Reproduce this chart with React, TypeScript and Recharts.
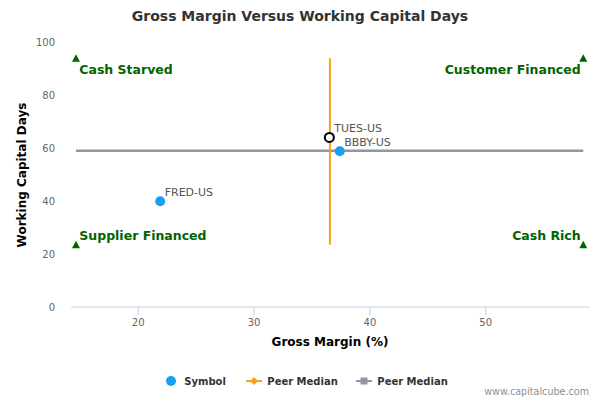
import { ScatterChart, Scatter, XAxis, YAxis } from "recharts";

// peer companies (blue dots)
const peerNames = ["FRED-US", "BBBY-US"];
const peerMargin = [21.9, 37.4];
const peerDays = [39.9, 58.8];

// the company under review (open circle)
const subjectName = "TUES-US";
const subjectMargin = 36.5;
const subjectDays = 64.0;

// peer medians
const medianMargin = 36.55;
const medianDays = 59.0;

// quadrant markers
const quadrantNames = ["Cash Starved", "Customer Financed", "Supplier Financed", "Cash Rich"];
const quadrantMargin = [14.63, 58.42, 14.63, 58.42];
const quadrantDays = [93.9, 93.9, 23.5, 23.5];

const xTicks = [20, 30, 40, 50];
const yTicks = [0, 20, 40, 60, 80, 100];
const legendNames = ["Symbol", "Peer Median", "Peer Median"];

const FONT = "'DejaVu Sans', Verdana, sans-serif";
const BLUE = "#1a9ef0";
const ORANGE = "#f7a21c";
const GRAY = "#9096a2";
const GREEN = "#006400";

const peerData = peerNames.map((name, i) => ({ name, x: peerMargin[i], y: peerDays[i] }));
const subjectData = [{ name: subjectName, x: subjectMargin, y: subjectDays }];
const quadrantData = quadrantNames.map((name, i) => ({
  name,
  x: quadrantMargin[i],
  y: quadrantDays[i],
}));
const xMid = (Math.min(...quadrantMargin) + Math.max(...quadrantMargin)) / 2;
const yMid = (Math.min(...quadrantDays) + Math.max(...quadrantDays)) / 2;

const verticalMedian = [
  { x: medianMargin, y: Math.min(...quadrantDays) },
  { x: medianMargin, y: Math.max(...quadrantDays) },
];
const horizontalMedian = [
  { x: Math.min(...quadrantMargin), y: medianDays },
  { x: Math.max(...quadrantMargin), y: medianDays },
];

const NoDot = () => <g />;

const PeerDot = (props: any) => {
  const { cx, cy, payload } = props;
  return (
    <g>
      <circle cx={cx} cy={cy} r={5} fill={BLUE} />
      <text x={cx + 4.5} y={cy - 5.5} fontSize={11} fill="#555" fontFamily={FONT}>
        {payload.name}
      </text>
    </g>
  );
};

const SubjectDot = (props: any) => {
  const { cx, cy, payload } = props;
  return (
    <g>
      <circle cx={cx} cy={cy} r={4.5} fill="#fff" stroke="#000" strokeWidth={2} />
      <text x={cx + 5} y={cy - 5.5} fontSize={11} fill="#555" fontFamily={FONT}>
        {payload.name}
      </text>
    </g>
  );
};

const QuadrantMark = (props: any) => {
  const { cx, cy, payload } = props;
  const right = payload.x > xMid;
  const top = payload.y > yMid;
  return (
    <g>
      <path d={`M${cx},${cy - 4} L${cx + 4},${cy + 3.5} L${cx - 4},${cy + 3.5} Z`} fill={GREEN} />
      <text
        x={right ? cx - 2.6 : cx + 3.3}
        y={top ? cy + 15.5 : cy - 5}
        textAnchor={right ? "end" : "start"}
        fontSize={12.5}
        fontWeight="bold"
        fill={GREEN}
        fontFamily={FONT}
      >
        {payload.name}
      </text>
    </g>
  );
};

export default function App() {
  return (
    <div
      style={{
        position: "absolute",
        left: 0,
        top: 0,
        width: 600,
        height: 400,
        background: "#fff",
        fontFamily: FONT,
      }}
    >
      <ScatterChart width={600} height={400} margin={{ top: 42, right: 10, bottom: 63, left: 0 }}>
        <XAxis
          type="number"
          dataKey="x"
          domain={[14.2, 59]}
          ticks={xTicks}
          allowDataOverflow
          height={30}
          axisLine={{ stroke: "#c0d0e0" }}
          tickLine={{ stroke: "#c0d0e0" }}
          tickSize={8}
          tickMargin={4}
          tick={{ fill: "#666", fontSize: 10 }}
        />
        <YAxis
          type="number"
          dataKey="y"
          domain={[0, 100]}
          ticks={yTicks}
          width={71}
          axisLine={false}
          tickLine={false}
          tickSize={0}
          tickMargin={16}
          tick={{ fill: "#666", fontSize: 10 }}
        />
        <Scatter
          data={horizontalMedian}
          line={{ stroke: GRAY, strokeWidth: 2.5 }}
          shape={NoDot}
          isAnimationActive={false}
        />
        <Scatter
          data={verticalMedian}
          line={{ stroke: ORANGE, strokeWidth: 2 }}
          shape={NoDot}
          isAnimationActive={false}
        />
        <Scatter data={quadrantData} shape={QuadrantMark} isAnimationActive={false} />
        <Scatter data={peerData} shape={PeerDot} isAnimationActive={false} />
        <Scatter data={subjectData} shape={SubjectDot} isAnimationActive={false} />
      </ScatterChart>

      <svg
        width={600}
        height={400}
        style={{ position: "absolute", left: 0, top: 0, pointerEvents: "none" }}
      >
        <text x={300} y={21} textAnchor="middle" fontSize={14} fontWeight="bold" fill="#333">
          Gross Margin Versus Working Capital Days
        </text>
        <text x={330} y={346} textAnchor="middle" fontSize={12} fontWeight="bold" fill="#000">
          Gross Margin (%)
        </text>
        <text
          transform="translate(26,175) rotate(-90)"
          textAnchor="middle"
          fontSize={12}
          fontWeight="bold"
          fill="#000"
        >
          Working Capital Days
        </text>

        {/* legend */}
        <circle cx={171} cy={381} r={5} fill={BLUE} />
        <text x={184.3} y={384.5} fontSize={10} fontWeight="bold" fill="#333">
          {legendNames[0]}
        </text>
        <line x1={246} x2={262} y1={381} y2={381} stroke={ORANGE} strokeWidth={2} />
        <path d="M254,377 L258,381 L254,385 L250,381 Z" fill={ORANGE} />
        <text x={267.3} y={384.5} fontSize={10} fontWeight="bold" fill="#333">
          {legendNames[1]}
        </text>
        <line x1={356} x2={372} y1={381} y2={381} stroke={GRAY} strokeWidth={2} />
        <rect x={360.5} y={377.5} width={7} height={7} fill={GRAY} />
        <text x={377.3} y={384.5} fontSize={10} fontWeight="bold" fill="#333">
          {legendNames[2]}
        </text>

        <text x={589} y={394.5} textAnchor="end" fontSize={9.6} fill="#909090">
          www.capitalcube.com
        </text>
      </svg>
    </div>
  );
}
